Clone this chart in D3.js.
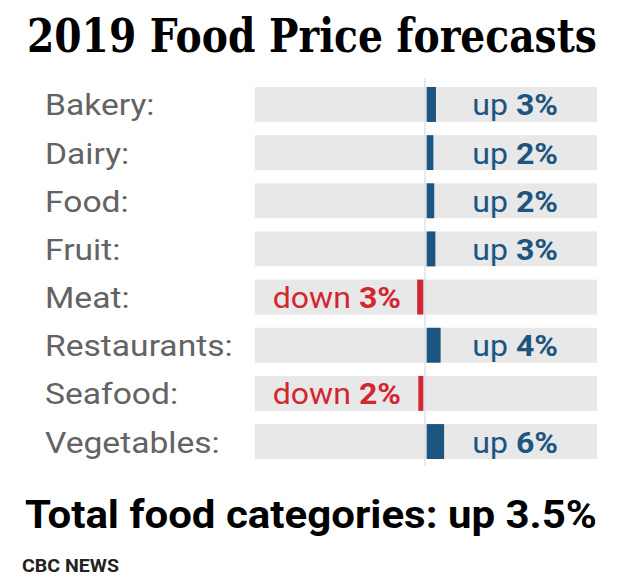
<!DOCTYPE html>
<html><head><meta charset="utf-8">
<script src="https://cdn.jsdelivr.net/npm/d3@7/dist/d3.min.js"></script>
<style>html,body{margin:0;padding:0;background:#fff;}svg{display:block;}</style>
</head><body><svg id="c" width="620" height="588"></svg>
<script>
const categories = ["Bakery:", "Dairy:", "Food:", "Fruit:", "Meat:", "Restaurants:", "Seafood:", "Vegetables:"];
const values = [3.2, 2.3, 2.6, 3.0, -2.1, 4.8, -1.7, 6.0];
const labelDir = ["up", "up", "up", "up", "down", "up", "down", "up"];
const labelPct = ["3%", "2%", "2%", "3%", "3%", "4%", "2%", "6%"];
const title = "2019 Food Price forecasts";
const footer = "Total food categories: up 3.5%";
const source = "CBC NEWS";

const svg = d3.select("#c");
const blue = "#1b5580", red = "#d22630", grey = "#e8e8e8";

const x = d3.scaleLinear().domain([-58.6, 59.3]).range([255, 597]);
const y = d3.scaleBand().domain(categories).range([87, 459]).paddingInner(0.275).paddingOuter(0);

function fitWidth(sel, x0, y0, target) {
  const w = sel.node().getComputedTextLength();
  sel.attr("x", 0).attr("y", 0)
     .attr("transform", `translate(${x0},${y0}) scale(${target / w},1)`);
}

const t = svg.append("text")
  .attr("font-family", "DejaVu Serif").attr("font-weight", "bold").attr("font-size", 46)
  .attr("fill", "#000").text(title);
fitWidth(t, 27, 52, 570);

const rows = svg.append("g").selectAll("g").data(categories).join("g")
  .attr("transform", d => `translate(0,${y(d)})`);

rows.append("rect").attr("x", x(-58.6)).attr("width", x(59.3) - x(-58.6))
  .attr("height", y.bandwidth()).attr("fill", grey);

svg.append("line").attr("x1", x(0)).attr("x2", x(0)).attr("y1", 78).attr("y2", 466)
  .attr("stroke", "#dde2ea").attr("stroke-width", 1.5);

rows.append("rect")
  .attr("x", (d, i) => values[i] >= 0 ? x(0) + 1.7 : x(values[i]) - 1.7)
  .attr("width", (d, i) => Math.abs(x(values[i]) - x(0)))
  .attr("height", y.bandwidth())
  .attr("fill", (d, i) => values[i] >= 0 ? blue : red);

rows.append("text")
  .attr("transform", `translate(45,${y.bandwidth() / 2 + 11}) scale(1.12,1)`)
  .attr("font-family", "Roboto").attr("font-size", 30).attr("fill", "#636363")
  .text(d => d);

const vl = rows.append("text")
  .attr("transform", (d, i) => `translate(${values[i] >= 0 ? 558 : 401},${y.bandwidth() / 2 + 11}) scale(1.07,1)`)
  .attr("text-anchor", "end")
  .attr("font-family", "Roboto").attr("font-size", 30)
  .attr("fill", (d, i) => values[i] >= 0 ? blue : red);
vl.append("tspan").text((d, i) => labelDir[i] + " ");
vl.append("tspan").attr("font-weight", "bold").text((d, i) => labelPct[i]);

const f = svg.append("text")
  .attr("font-family", "Roboto").attr("font-weight", "bold").attr("font-size", 38)
  .attr("fill", "#000").text(footer);
fitWidth(f, 25, 528, 572);

const s = svg.append("text")
  .attr("font-family", "Roboto").attr("font-weight", "bold").attr("font-size", 19)
  .attr("fill", "#222").text(source);
fitWidth(s, 22, 572, 97);
</script></body></html>
